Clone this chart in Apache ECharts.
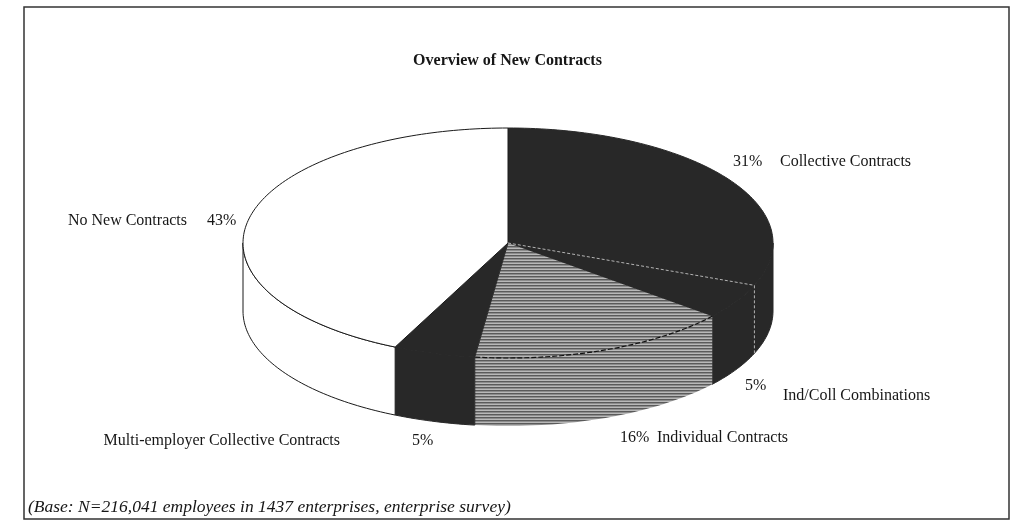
<!DOCTYPE html>
<html>
<head>
<meta charset="utf-8">
<script src="https://cdn.jsdelivr.net/npm/echarts@6/dist/echarts.min.js"></script>
<style>
  html, body { margin: 0; padding: 0; background: #ffffff; }
  #chart { width: 1015px; height: 521px; }
</style>
</head>
<body>
<div id="chart"></div>
<script>
// Share of employees by type of new contract (percent)
const categories = [
  'Collective Contracts',
  'Ind/Coll Combinations',
  'Individual Contracts',
  'Multi-employer Collective Contracts',
  'No New Contracts'
];
const shares = [31, 5, 16, 5, 43];

const chartTitle = 'Overview of New Contracts';
const footnote = '(Base: N=216,041 employees in 1437 enterprises, enterprise survey)';

// Horizontal line hatch used for the grey slice
const hatch = document.createElement('canvas');
hatch.width = 4; hatch.height = 3;
const hc = hatch.getContext('2d');
hc.fillStyle = '#b8b8b8'; hc.fillRect(0, 0, 4, 3);
hc.fillStyle = '#5a5a5a'; hc.fillRect(0, 0, 4, 1);
hc.fillStyle = '#8c8c8c'; hc.fillRect(0, 1, 4, 1);
const hatchFill = { image: hatch, repeat: 'repeat' };

const DARK = '#282828';
const sliceStyles = [
  { fill: DARK, stroke: DARK, endSeam: true },
  { fill: DARK, stroke: DARK },
  { fill: hatchFill, stroke: null, rimDash: true },
  { fill: DARK, stroke: DARK },
  { fill: '#ffffff', stroke: '#1a1a1a' }
];

// Label placement around the pie: [x, y, align] for the percentage and the name
const labelLayout = [
  { pct: [733, 162, 'left'], name: [780, 162, 'left'] },
  { pct: [745, 386, 'left'], name: [783, 396, 'left'] },
  { pct: [620, 438, 'left'], name: [657, 438, 'left'] },
  { pct: [412, 441, 'left'], name: [340, 441, 'right'] },
  { pct: [207, 221, 'left'], name: [187, 221, 'right'] }
];

// Elliptical pie geometry (pixels)
const PIE = { cx: 508, cy: 243, rx: 265, ry: 115, depth: 68 };

const total = shares.reduce((s, v) => s + v, 0);
const starts = [];
shares.reduce((acc, v) => { starts.push(acc / total * 360); return acc + v; }, 0);

function pt(deg, dy) {
  const r = deg * Math.PI / 180;
  return [PIE.cx + PIE.rx * Math.sin(r), PIE.cy - PIE.ry * Math.cos(r) + dy];
}
function arc(a, b, dy) {
  const n = Math.max(2, Math.ceil(Math.abs(b - a) / 1.2));
  const pts = [];
  for (let k = 0; k <= n; k++) pts.push(pt(a + (b - a) * k / n, dy));
  return pts;
}

function renderSlice(params, api) {
  const i = params.dataIndex;
  const v = api.value(0);
  const a = starts[i];
  const b = a + v / total * 360;
  const st = sliceStyles[i];
  const children = [];

  // front wall (only the half facing the viewer is visible)
  const wa = Math.max(a, 90), wb = Math.min(b, 270);
  if (wb > wa) {
    const wall = arc(wa, wb, 0).concat(arc(wb, wa, PIE.depth));
    children.push({
      type: 'polygon', z2: 1,
      shape: { points: wall },
      style: { fill: st.fill, stroke: st.stroke, lineWidth: 1 }
    });
  }

  // top face
  const top = [[PIE.cx, PIE.cy]].concat(arc(a, b, 0));
  children.push({
    type: 'polygon', z2: 10,
    shape: { points: top },
    style: { fill: st.fill, stroke: st.stroke, lineWidth: 1 }
  });

  if (st.rimDash) {
    children.push({
      type: 'polyline', z2: 20,
      shape: { points: arc(a, b, 0) },
      style: { fill: null, stroke: '#111111', lineWidth: 1.2, lineDash: [5, 2] }
    });
  }
  if (st.endSeam) {
    const e0 = pt(b, 0), e1 = pt(b, PIE.depth);
    children.push({
      type: 'polyline', z2: 20,
      shape: { points: [[PIE.cx, PIE.cy], e0, e1] },
      style: { fill: null, stroke: '#b4b4b4', lineWidth: 1, lineDash: [3, 2] }
    });
  }
  return { type: 'group', children };
}

const textFont = '16px "Liberation Serif", "Times New Roman", serif';
const labelGraphics = [];
categories.forEach((name, i) => {
  const L = labelLayout[i];
  labelGraphics.push({
    type: 'text',
    style: { text: shares[i] + '%', x: L.pct[0], y: L.pct[1], textAlign: L.pct[2],
             textVerticalAlign: 'middle', font: textFont, fill: '#161616' }
  });
  labelGraphics.push({
    type: 'text',
    style: { text: name, x: L.name[0], y: L.name[1], textAlign: L.name[2],
             textVerticalAlign: 'middle', font: textFont, fill: '#161616' }
  });
});

const chart = echarts.init(document.getElementById('chart'), null, { renderer: 'canvas' });
chart.setOption({
  backgroundColor: '#ffffff',
  animation: false,
  title: {
    text: chartTitle,
    left: 'center',
    top: 48,
    textStyle: { fontFamily: 'Liberation Serif', fontWeight: 'bold', fontSize: 16, color: '#161616' }
  },
  graphic: [
    {
      type: 'rect', z: -1,
      shape: { x: 24, y: 7, width: 985, height: 512 },
      style: { fill: null, stroke: '#333333', lineWidth: 1.5 }
    },
    {
      type: 'text',
      style: { text: footnote, x: 28, y: 507, textAlign: 'left', textVerticalAlign: 'middle',
               font: 'italic 17.5px "Liberation Serif", "Times New Roman", serif', fill: '#161616' }
    }
  ].concat(labelGraphics),
  series: [{
    type: 'custom',
    coordinateSystem: 'none',
    renderItem: renderSlice,
    data: shares.map(v => [v])
  }]
});
</script>
</body>
</html>
